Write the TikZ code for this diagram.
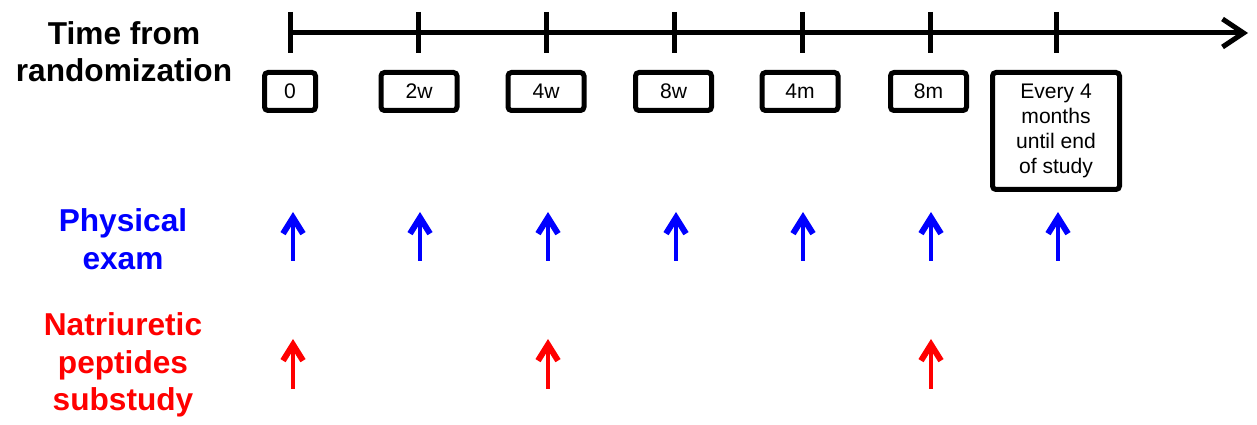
\documentclass[tikz,border=0pt]{standalone}
\usepackage{fontspec}
\setmainfont{Liberation Sans}
\usetikzlibrary{arrows.meta}

\definecolor{examblue}{RGB}{0,0,255}
\definecolor{peptred}{RGB}{255,0,0}

\tikzset{
  axis/.style={line width=0.1cm},
  visitbox/.style={draw,line width=0.1cm,rounded corners=2pt,anchor=north,
    minimum height=0.76cm,minimum width=1.52cm,inner sep=0pt,
    font=\fontsize{12}{14.2}\selectfont},
  rowlabel/.style={align=center,inner sep=0pt,
    font=\fontsize{18}{21.3}\selectfont\bfseries},
  examarrow/.style={examblue,line width=0.09cm,-{Straight Barb[length=0.32cm,width=0.4cm,line width=0.12cm]}},
  peptarrow/.style={peptred,line width=0.09cm,-{Straight Barb[length=0.32cm,width=0.4cm,line width=0.12cm]}}
}

\begin{document}
\begin{tikzpicture}
\useasboundingbox (0,0) rectangle (25.14,-8.5);

% time axis
\coordinate (start) at (5.78,-0.66);
\coordinate (end) at (24.96,-0.66);
\draw[axis,-{Straight Barb[length=0.42cm,width=0.56cm]}] (start)--(end);
\draw[axis] (5.8,-0.24)--(5.8,-1.06);
\draw[axis] (8.36,-0.24)--(8.36,-1.06);
\draw[axis] (10.92,-0.24)--(10.92,-1.06);
\draw[axis] (13.48,-0.24)--(13.48,-1.06);
\draw[axis] (16.04,-0.24)--(16.04,-1.06);
\draw[axis] (18.6,-0.24)--(18.6,-1.06);
\draw[axis] (21.12,-0.24)--(21.12,-1.06);

\node[rowlabel] (timelbl) at (2.48,-1.03){Time from\\randomization};

% visits
\node[visitbox,minimum width=1.02cm] (v0) at (5.8,-1.4){0};
\node[visitbox] (v2w) at (8.38,-1.4){2w};
\node[visitbox] (v4w) at (10.92,-1.4){4w};
\node[visitbox] (v8w) at (13.47,-1.4){8w};
\node[visitbox] (v4m) at (16.0,-1.4){4m};
\node[visitbox] (v8m) at (18.57,-1.4){8m};
\node[visitbox,minimum width=2.54cm,minimum height=2.34cm,align=center] (vall) at (21.12,-1.4){Every 4\\months\\until end\\of study};

% physical exam
\node[rowlabel,examblue] (examlbl) at (2.46,-4.78){Physical\\exam};
\coordinate (e0) at (5.86,-5.22);  \coordinate (E0) at (5.86,-4.24);
\coordinate (e1) at (8.4,-5.22);   \coordinate (E1) at (8.4,-4.24);
\coordinate (e2) at (10.96,-5.22); \coordinate (E2) at (10.96,-4.24);
\coordinate (e3) at (13.52,-5.22); \coordinate (E3) at (13.52,-4.24);
\coordinate (e4) at (16.06,-5.22); \coordinate (E4) at (16.06,-4.24);
\coordinate (e5) at (18.62,-5.22); \coordinate (E5) at (18.62,-4.24);
\coordinate (e6) at (21.16,-5.22); \coordinate (E6) at (21.16,-4.24);
\draw[examarrow] (e0)--(E0);
\draw[examarrow] (e1)--(E1);
\draw[examarrow] (e2)--(E2);
\draw[examarrow] (e3)--(E3);
\draw[examarrow] (e4)--(E4);
\draw[examarrow] (e5)--(E5);
\draw[examarrow] (e6)--(E6);

% natriuretic peptides
\node[rowlabel,peptred] (peptlbl) at (2.46,-7.3){Natriuretic\\peptides\\substudy};
\coordinate (p0) at (5.86,-7.78);  \coordinate (P0) at (5.86,-6.78);
\coordinate (p2) at (10.96,-7.78); \coordinate (P2) at (10.96,-6.78);
\coordinate (p5) at (18.62,-7.78); \coordinate (P5) at (18.62,-6.78);
\draw[peptarrow] (p0)--(P0);
\draw[peptarrow] (p2)--(P2);
\draw[peptarrow] (p5)--(P5);
\end{tikzpicture}
\end{document}
